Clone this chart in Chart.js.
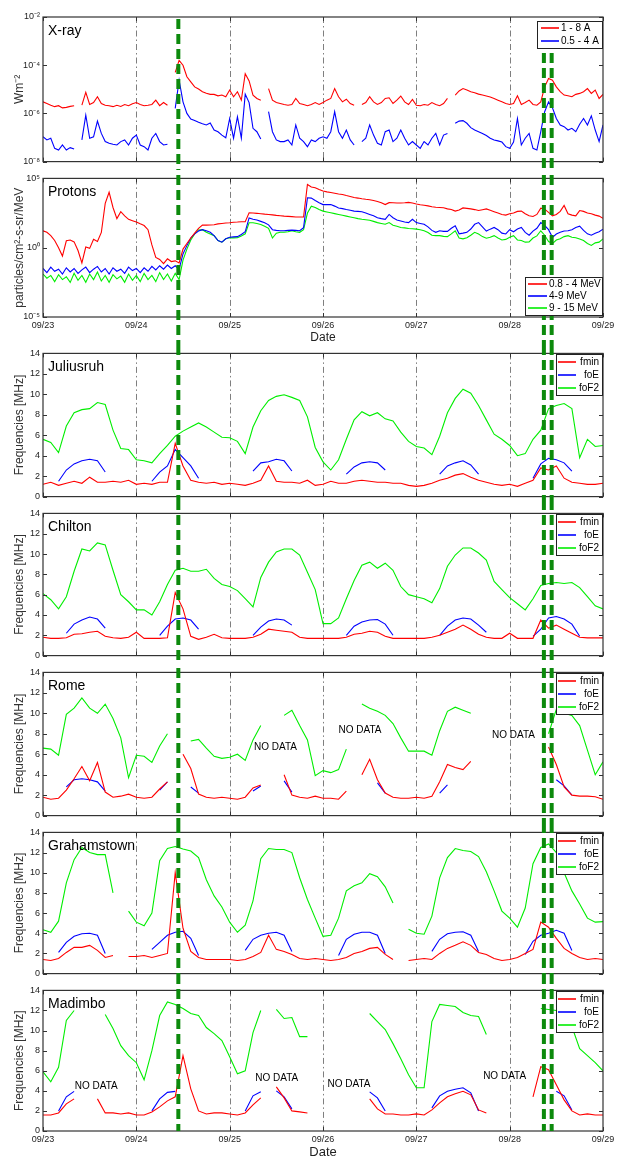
<!DOCTYPE html>
<html>
<head>
<meta charset="utf-8">
<title>Solar event 23-29 September</title>
<script src="https://cdn.jsdelivr.net/npm/chart.js@4/dist/chart.umd.min.js"></script>
<style>
  html, body { margin: 0; padding: 0; background: #fff; overflow: hidden; }
  #figure { position: relative; width: 618px; height: 1156px; }
  #figure canvas { position: absolute; left: 0; }
</style>
</head>
<body>
<div id="figure"></div>
<script>
// ---- time axis: hours since 09/23 00:00 ----
const dayLabels = ['09/23', '09/24', '09/25', '09/26', '09/27', '09/28', '09/29'];
const dayHours = [0, 24, 48, 72, 96, 120, 144];
const eventHours = [34.8, 128.8, 130.8];

const hourly = [];
for (let h = 0; h <= 144; h++) hourly.push(h);
const twoHourly = [];
for (let h = 0; h <= 144; h += 2) twoHourly.push(h);

// ---- GOES X-ray flux, log10(W m^-2), hourly ----
const xrayLong = [
  -5.52,-5.59,-5.66,-5.72,-5.68,-5.77,-5.75,-5.71,-5.68,null,-5.66,-5.13,
  -5.63,-5.55,-5.31,-5.59,-5.66,-5.68,-5.72,-5.66,-5.71,-5.63,-5.68,-5.60,
  -5.55,-5.63,-5.68,-5.66,-5.63,-5.45,-5.68,-5.55,-5.66,null,-4.30,-3.80,
  -4.00,-4.48,-4.69,-4.90,-4.99,-5.10,-5.16,-5.21,-5.21,-5.27,-5.24,-5.31,
  -5.03,-5.31,-5.10,-5.45,-4.35,-4.65,-5.24,-5.38,-5.45,null,-4.97,-5.45,
  -5.55,-5.59,-5.63,-5.66,-5.63,-5.38,-5.59,-5.63,-5.68,-5.63,-5.55,-5.63,
  -5.55,-5.45,-5.38,-4.97,-5.31,-5.52,-5.41,-5.59,-5.66,null,-5.63,-5.55,
  -5.31,-5.52,-5.63,-5.55,-5.38,-5.35,-5.59,-5.45,-5.28,-5.52,-5.63,-5.42,
  -5.66,-5.68,-5.63,-5.66,-5.55,-5.63,-5.68,-5.59,-5.38,null,-5.24,-5.07,
  -4.97,-5.03,-5.10,-5.14,-5.20,-5.24,-5.28,-5.32,-5.38,-5.45,-5.52,-5.59,
  -5.63,-5.59,-5.27,-5.63,-5.55,-5.45,-5.63,-5.66,-5.52,-4.90,-4.55,-4.62,
  -4.90,-5.10,-5.24,-5.27,-5.31,-5.21,-5.17,-5.10,-4.97,-5.17,-5.03,-5.38,
  -5.21
];
const xrayShort = [
  -6.97,-7.10,-7.03,-7.45,-7.52,-7.31,-7.52,-7.42,-7.48,null,-7.10,-6.07,
  -7.03,-6.97,-6.32,-6.83,-7.17,-7.24,-7.28,-7.31,-7.17,-7.10,-7.31,-7.03,
  -6.90,-7.31,-7.38,-7.52,-7.03,-6.83,-7.17,-7.31,-7.28,null,-5.79,-4.62,
  -5.52,-6.00,-6.23,-6.29,-6.37,-6.43,-6.48,-6.40,-6.69,-6.76,-6.90,-7.01,
  -6.21,-7.03,-6.14,-7.03,-5.20,-5.55,-6.62,-6.76,-7.06,null,-5.93,-6.76,
  -7.10,-7.17,-7.17,-7.10,-7.31,-6.48,-7.03,-7.17,-7.38,-7.10,-7.17,-7.03,
  -6.97,-7.03,-6.76,-5.93,-6.76,-7.03,-6.69,-7.10,-7.31,null,-7.17,-7.03,
  -6.48,-6.90,-7.24,-7.31,-6.76,-6.69,-7.17,-7.03,-6.69,-7.03,-7.31,-7.17,
  -7.31,-7.45,-7.17,-7.31,-7.03,-6.83,-7.31,-6.90,-6.83,null,-6.41,-6.32,
  -6.30,-6.41,-6.59,-6.69,-6.76,-6.83,-6.92,-7.03,-7.10,-7.14,-7.19,-7.38,
  -7.45,-7.19,-6.21,-7.31,-7.03,-6.83,-7.45,-7.52,-6.76,-5.93,-5.52,-5.77,
  -6.21,-6.48,-6.55,-6.69,-6.62,-6.76,-6.45,-6.21,-6.48,-6.10,-6.69,-7.17,
  -6.48
];

// ---- proton flux, log10(particles/cm2-s-sr/MeV), hourly ----
const protonsLow = [
  1.22,1.11,0.87,0.52,0.00,-0.60,0.50,0.55,0.42,-0.20,-1.10,0.05,
  -0.05,0.60,0.45,1.10,3.20,4.00,2.90,2.10,2.60,2.30,2.05,1.95,
  1.85,1.72,1.60,1.30,0.20,-0.70,-0.85,-1.15,-0.80,-1.00,-0.95,-1.10,
  -0.10,0.30,0.70,1.05,1.40,1.63,1.63,1.64,1.66,1.72,1.75,1.78,
  1.80,1.84,1.85,1.87,1.88,2.52,2.50,2.48,2.45,2.42,2.40,2.37,
  2.33,2.31,2.28,2.26,2.24,2.22,2.21,2.21,4.56,4.38,4.33,4.20,
  4.09,4.03,3.98,3.93,3.88,3.84,3.76,3.70,3.62,3.58,3.53,3.49,
  3.46,3.40,3.34,3.25,3.11,3.25,3.24,3.22,3.22,3.24,3.27,3.22,
  3.15,3.10,3.06,3.02,2.95,2.92,2.90,2.88,2.80,2.76,2.64,2.72,
  2.87,2.84,2.80,2.75,2.68,2.74,2.80,2.70,2.60,2.50,2.40,2.35,
  2.45,2.50,2.62,2.64,2.45,2.30,2.25,2.40,2.85,2.78,2.55,2.30,
  2.40,2.62,3.05,2.45,2.35,2.30,2.68,2.62,2.50,2.45,2.35,2.28,
  2.12
];
const protonsMid = [
  -1.50,-1.80,-1.40,-1.70,-1.55,-1.90,-1.45,-1.75,-1.50,-1.85,-1.60,-1.40,
  -1.80,-1.55,-1.35,-1.75,-1.50,-1.90,-1.45,-1.70,-1.55,-1.85,-1.40,-1.65,
  -1.50,-1.80,-1.45,-1.70,-1.35,-1.60,-1.30,-1.55,-1.25,-1.50,-1.30,-1.55,
  -0.45,0.15,0.70,1.00,1.20,1.30,1.22,1.11,0.87,0.52,0.40,0.64,
  0.75,0.78,0.80,0.95,1.15,2.15,2.05,2.00,1.90,1.80,1.65,1.30,
  1.25,1.22,1.22,1.25,1.27,1.25,1.22,1.45,3.60,3.58,3.40,3.25,
  3.11,3.11,3.11,3.00,2.87,2.82,2.75,2.70,2.64,2.62,2.59,2.50,
  2.40,2.30,2.16,2.10,2.05,2.40,2.16,2.00,1.93,1.85,1.81,2.05,
  1.81,1.75,1.69,1.50,1.25,1.11,1.22,1.18,1.18,1.40,1.58,1.00,
  1.05,1.11,1.35,1.69,1.81,1.50,1.20,1.34,1.46,1.30,1.05,0.99,
  1.30,1.15,1.35,1.46,1.10,0.90,1.20,1.40,1.81,1.60,1.30,0.75,
  0.99,1.11,1.20,1.22,1.30,1.46,1.55,1.25,1.00,0.90,1.05,1.15,
  1.34
];
const protonsHigh = [
  -1.90,-2.20,-2.00,-2.45,-1.95,-2.30,-2.10,-2.50,-1.85,-2.35,-2.00,-2.50,
  -1.90,-2.30,-1.75,-2.40,-2.00,-2.50,-1.95,-2.25,-2.05,-2.50,-1.90,-2.35,
  -2.00,-2.45,-1.85,-2.30,-2.00,-2.45,-1.80,-2.30,-1.90,-2.40,-1.85,-2.30,
  -0.90,-0.10,0.55,1.00,1.28,1.30,1.11,0.99,0.87,0.52,0.40,0.64,
  0.72,0.71,0.72,0.85,1.00,1.80,1.80,1.75,1.68,1.55,1.40,0.70,
  1.05,1.11,1.11,1.15,1.22,1.15,1.11,1.30,2.50,3.00,2.90,2.75,
  2.64,2.58,2.52,2.46,2.40,2.34,2.28,2.22,2.16,2.10,2.05,2.02,
  1.98,1.90,1.81,1.75,1.69,1.81,1.62,1.55,1.46,1.43,1.39,1.37,
  1.34,1.30,1.22,1.10,0.90,0.87,0.87,0.82,0.80,1.00,1.22,0.70,
  0.64,0.72,0.90,1.11,0.99,0.80,0.68,0.75,0.87,0.70,0.56,0.60,
  0.75,0.87,0.56,0.52,0.40,0.42,0.70,0.85,1.22,0.90,0.45,0.30,
  0.55,0.64,0.80,0.87,0.75,0.72,0.62,0.52,0.30,0.16,0.35,0.40,
  0.64
];

// ---- ionosonde frequencies [MHz], every 2 hours ----
const juliusruhFmin = [
  1.2,1.4,1.1,1.3,1.5,1.3,1.9,1.4,1.4,1.5,1.4,1.6,
  1.2,1.3,1.2,1.4,1.4,5.2,3.0,1.6,1.4,1.3,1.4,1.2,
  1.3,1.2,1.1,1.3,1.6,3.0,1.5,1.4,1.4,1.3,1.6,1.1,
  1.2,1.5,1.3,1.3,1.5,1.6,1.5,1.4,1.4,1.3,1.3,1.1,
  1.0,1.1,1.3,1.6,1.8,2.1,2.25,1.9,1.6,1.4,1.2,1.1,
  1.2,1.0,1.3,1.6,2.8,2.6,3.0,1.8,1.4,1.3,1.2,1.2,
  1.3
];
const juliusruhFoE = [
  null,null,1.5,2.6,3.2,3.5,3.65,3.5,2.4,null,null,null,
  null,null,1.5,2.4,3.0,4.6,3.8,3.0,1.8,null,null,null,
  null,null,null,2.5,3.3,3.4,3.65,3.5,2.5,null,null,null,
  null,null,null,2.2,2.9,3.3,3.4,3.3,2.6,null,null,null,
  null,null,null,2.2,3.0,3.3,3.5,3.1,2.2,null,null,null,
  null,null,null,1.8,3.2,3.75,3.6,3.3,2.5,null,null,null,
  null
];
const juliusruhFoF2 = [
  5.6,5.3,4.3,6.9,8.2,8.5,8.6,9.2,9.0,6.5,4.7,4.6,
  3.6,3.5,3.3,4.2,5.0,5.9,6.4,6.8,7.2,6.8,6.3,5.8,
  5.75,5.4,4.2,6.8,8.4,9.4,9.8,9.95,9.7,9.4,7.8,4.8,
  3.4,2.6,3.6,5.6,7.5,8.3,7.9,8.2,7.6,7.4,6.3,5.4,
  4.9,4.75,4.1,5.9,8.2,9.6,10.5,10.1,8.9,7.5,6.1,5.6,
  5.0,4.0,4.2,5.6,6.5,8.6,8.9,9.1,8.6,3.8,5.6,4.9,
  5.0
];

const chiltonFmin = [
  1.8,1.7,1.7,1.75,2.1,2.15,2.3,2.4,1.9,1.75,1.7,1.8,
  2.3,1.7,1.7,1.7,1.75,6.2,4.6,1.9,1.6,1.8,2.1,1.75,
  1.7,1.7,1.7,1.8,2.1,2.6,2.5,2.4,2.3,1.8,1.7,1.7,
  1.7,1.7,1.7,1.8,2.1,2.2,2.4,2.3,1.9,1.7,1.7,1.7,
  1.7,1.7,1.8,2.0,2.3,2.6,3.0,2.6,2.1,1.8,1.7,1.7,
  2.2,1.7,1.7,1.7,3.5,2.7,3.0,2.6,2.2,1.8,1.75,1.75,
  1.75
];
const chiltonFoE = [
  null,null,null,2.2,3.1,3.5,3.8,3.6,2.7,null,null,null,
  null,null,null,2.0,2.9,3.6,3.7,3.5,2.6,null,null,null,
  null,null,null,2.0,2.8,3.4,3.6,3.5,3.0,null,null,null,
  null,null,null,2.0,2.9,3.3,3.5,3.55,3.1,2.0,null,null,
  null,null,null,2.0,2.9,3.5,3.7,3.6,3.0,2.3,null,null,
  null,null,null,1.9,2.6,3.7,3.85,3.6,3.1,1.9,null,null,
  null
];
const chiltonFoF2 = [
  6.1,5.5,4.6,5.8,8.3,10.5,10.3,11.1,10.9,8.4,6.0,5.3,
  4.5,4.5,4.0,5.3,7.0,8.4,8.6,8.3,8.3,8.5,7.6,7.0,
  6.8,6.4,5.6,4.8,7.7,9.2,10.2,10.5,10.5,9.9,8.2,6.5,
  3.15,3.15,3.7,5.6,7.4,8.9,9.2,8.6,9.1,8.4,6.8,6.0,
  5.8,5.6,5.2,6.6,8.8,9.9,10.6,10.6,10.1,9.4,7.3,6.5,
  5.7,5.1,4.5,5.6,6.9,7.1,7.2,7.1,7.2,6.7,5.8,4.9,
  4.6
];

const romeFmin = [
  1.8,1.6,1.7,2.5,3.6,4.8,3.4,5.2,2.3,1.8,1.9,2.1,
  1.8,1.7,1.8,2.6,3.3,null,6.0,4.6,2.1,1.8,1.7,1.8,
  1.7,1.6,1.8,2.7,3.0,null,null,4.0,2.0,1.8,1.7,1.9,
  1.7,1.7,1.6,2.4,null,4.0,5.5,3.5,2.2,1.8,1.7,1.7,
  1.8,1.7,1.9,3.3,5.0,4.7,4.5,5.3,null,null,null,null,
  null,null,null,null,null,6.7,5.0,2.8,2.0,1.9,1.9,1.85,
  1.6
];
const romeFoE = [
  null,null,null,2.8,3.5,3.6,3.5,3.3,2.4,null,null,null,
  null,null,null,2.5,3.3,null,null,2.8,2.2,null,null,null,
  null,null,null,2.4,2.9,null,null,3.4,2.3,null,null,null,
  null,null,null,null,null,null,null,3.2,2.2,null,null,null,
  null,null,null,2.2,3.0,null,null,null,null,null,null,null,
  null,null,null,null,null,null,3.5,2.9,2.0,null,null,null,
  null
];
const romeFoF2 = [
  6.6,6.5,5.9,9.9,10.5,11.5,10.5,10.0,10.9,9.5,7.6,3.7,
  5.9,5.8,5.2,6.8,8.0,null,null,7.3,7.45,6.6,5.8,5.6,
  5.7,6.0,5.4,7.4,8.8,null,null,9.8,10.3,8.8,7.4,3.9,
  4.4,4.2,4.5,6.5,null,10.9,10.5,10.2,9.8,9.0,7.6,6.3,
  6.3,6.3,5.9,8.3,10.2,10.6,10.3,10.0,null,null,null,null,
  null,null,null,null,null,8.0,10.4,10.0,9.8,8.8,6.4,4.0,
  5.25
];

const grahamstownFmin = [
  1.4,1.3,1.5,2.1,2.6,2.6,2.8,2.3,1.6,1.8,null,1.7,
  1.7,1.8,1.6,1.8,2.0,10.0,4.5,2.2,1.6,1.4,1.4,1.4,
  1.4,1.3,1.4,1.7,2.1,3.8,2.4,2.2,1.9,1.5,1.4,1.5,
  1.4,1.3,1.4,1.6,2.0,2.2,2.5,2.6,1.9,1.4,null,1.3,
  1.4,1.5,1.4,2.0,2.5,2.8,3.15,2.8,2.1,1.9,1.5,1.3,
  1.4,1.6,2.0,2.4,5.1,4.6,3.5,2.5,2.0,1.6,1.4,1.5,
  1.4
];
const grahamstownFoE = [
  null,null,2.1,3.1,3.7,3.95,4.0,3.8,2.0,null,null,null,
  null,null,2.4,3.1,3.8,4.1,4.2,3.5,1.8,null,null,null,
  null,null,2.3,3.4,3.8,4.0,4.1,3.8,2.2,null,null,null,
  null,null,1.8,3.4,3.9,4.1,4.1,3.8,2.0,null,null,null,
  null,null,2.2,3.4,3.95,4.1,4.15,3.8,2.2,null,null,null,
  null,null,1.9,3.2,3.8,4.0,4.3,4.0,2.3,null,null,null,
  null
];
const grahamstownFoF2 = [
  4.35,4.1,5.2,9.0,11.3,12.5,12.0,11.8,11.8,8.0,null,6.2,
  5.1,4.75,6.0,11.2,12.4,12.6,12.35,12.15,11.5,9.3,7.7,6.6,
  5.1,4.1,4.8,7.2,11.4,12.4,12.3,12.3,12.0,9.5,7.35,5.5,
  3.7,3.8,5.5,8.2,8.7,9.0,9.9,9.6,8.6,7.0,null,4.4,
  4.0,3.9,5.7,9.5,11.5,12.4,12.2,12.1,11.6,10.1,8.2,6.2,
  5.5,4.6,6.5,10.9,12.5,12.85,12.0,10.0,8.2,6.9,5.5,5.1,
  5.15
];

const madimboFmin = [
  1.6,1.6,1.8,2.7,3.2,null,null,3.2,1.8,1.8,1.7,1.8,
  1.6,1.6,1.9,2.4,3.0,3.4,7.5,4.2,2.0,1.7,1.8,1.8,
  1.7,1.6,1.8,2.6,3.3,null,4.4,3.3,2.0,1.9,1.8,null,
  null,null,null,null,null,null,3.2,2.2,1.7,1.7,1.6,1.6,
  1.7,1.6,2.1,2.8,3.4,3.7,3.95,3.6,2.1,1.8,null,null,
  null,null,null,3.4,6.4,6.1,4.6,3.1,2.0,1.6,1.7,1.6,
  1.6
];
const madimboFoE = [
  null,null,2.0,3.4,3.95,null,null,null,null,null,null,null,
  null,null,2.0,3.2,3.85,3.95,null,null,null,null,null,null,
  null,null,2.0,3.5,3.9,null,4.0,3.4,2.2,null,null,null,
  null,null,null,null,null,null,3.9,3.3,2.0,null,null,null,
  null,null,2.3,3.5,3.95,4.15,4.3,3.8,2.0,null,null,null,
  null,null,null,null,null,null,3.95,3.5,2.1,null,null,null,
  null
];
const madimboFoF2 = [
  5.9,4.9,6.35,11.0,12.0,null,null,null,11.6,10.2,8.5,7.5,
  6.8,5.1,8.0,11.5,12.85,12.6,12.2,11.7,11.5,10.3,9.7,9.0,
  7.4,5.7,6.0,9.8,12.0,null,12.1,11.2,11.3,9.4,9.4,null,
  null,null,null,null,null,null,11.7,10.9,10.1,8.7,7.2,5.6,
  4.3,4.3,10.9,12.6,12.5,12.4,11.8,11.5,11.4,9.6,null,null,
  null,null,null,null,12.2,12.1,12.0,11.5,10.4,8.2,7.5,6.8,
  6.0
];

// "NO DATA" captions: [hour, MHz]
const romeNoData = [[59.8, 6.7], [81.5, 8.3], [121.0, 7.9]];
const madimboNoData = [[13.7, 4.5], [60.1, 5.3], [78.7, 4.7], [118.7, 5.5]];

// ---- styling ----
const FONT = '"Liberation Sans", Arial, sans-serif';
const RED = '#ff0000', BLUE = '#0000ff', GREEN = '#00ee00';
const EVENT_GREEN = '#0c8a0c';

const SUP = { '-': '\u207b', '0': '\u2070', '1': '\u00b9', '2': '\u00b2', '3': '\u00b3',
  '4': '\u2074', '5': '\u2075', '6': '\u2076', '7': '\u2077', '8': '\u2078', '9': '\u2079' };
function powerLabel(v) {
  const e = Math.round(Math.log10(v));
  return '10' + String(e).split('').map(c => SUP[c]).join('');
}
function fromLog(arr) {
  return arr.map(v => (v === null ? null : Math.pow(10, v)));
}
function ionoSeries(fmin, foE, foF2) {
  return [
    { label: 'fmin', values: fmin, color: RED },
    { label: 'foE', values: foE, color: BLUE },
    { label: 'foF2', values: foF2, color: GREEN }
  ];
}

const panels = [
  { title: 'X-ray', top: 0, height: 170, padTop: 17, padBottom: 7,
    yType: 'logarithmic', yMin: 1e-8, yMax: 1e-2, yTicks: [1e-8, 1e-6, 1e-4, 1e-2], yTitle: 'Wm\u207b\u00b2',
    hours: hourly, legend: 'xray', eventFrom: ['area', 'legend', 'legend'],
    series: [
      { label: '1 - 8 A', values: fromLog(xrayLong), color: RED },
      { label: '0.5 - 4 A', values: fromLog(xrayShort), color: BLUE }
    ] },
  { title: 'Protons', top: 170, height: 175, padTop: 6, padBottom: 0, xTitle: 'Date', xHeight: 28, xTitleSize: 12,
    yType: 'logarithmic', yMin: 1e-5, yMax: 1e5, yTicks: [1e-5, 1, 1e5], yTitle: 'particles/cm\u00b2-s-sr/MeV',
    hours: hourly, legend: 'protons',
    series: [
      { label: '0.8 - 4 MeV', values: fromLog(protonsLow), color: RED },
      { label: '4-9 MeV', values: fromLog(protonsMid), color: BLUE },
      { label: '9 - 15 MeV', values: fromLog(protonsHigh), color: GREEN }
    ] },
  { title: 'Juliusruh', top: 345, height: 160, padTop: 5, padBottom: 4, hours: twoHourly, legend: 'iono',
    series: ionoSeries(juliusruhFmin, juliusruhFoE, juliusruhFoF2) },
  { title: 'Chilton', top: 505, height: 159, padTop: 5, padBottom: 4, hours: twoHourly, legend: 'iono',
    series: ionoSeries(chiltonFmin, chiltonFoE, chiltonFoF2) },
  { title: 'Rome', top: 664, height: 160, padTop: 5, padBottom: 4, hours: twoHourly, legend: 'iono',
    notes: romeNoData, series: ionoSeries(romeFmin, romeFoE, romeFoF2) },
  { title: 'Grahamstown', top: 824, height: 158, padTop: 4, padBottom: 4, hours: twoHourly, legend: 'iono',
    series: ionoSeries(grahamstownFmin, grahamstownFoE, grahamstownFoF2) },
  { title: 'Madimbo', top: 982, height: 178, padTop: 4, padBottom: 0, xTitle: 'Date', xHeight: 29, xTitleSize: 13,
    hours: twoHourly, legend: 'iono', eventTo: 'area',
    notes: madimboNoData, series: ionoSeries(madimboFmin, madimboFoE, madimboFoF2) }
];

// legend box placement inside the plot frame
function legendBox(a, kind) {
  if (kind === 'xray') return { x: a.right - 66, y: a.top + 4, w: 65, h: 27, rows: [7, 20], line: [4, 22], text: 24, align: 'left' };
  if (kind === 'protons') return { x: a.right - 78, y: a.bottom - 40, w: 77, h: 38, rows: [7, 19, 31], line: [3, 22], text: 24, align: 'left' };
  return { x: a.right - 47, y: a.top + 1, w: 46, h: 41, rows: [8, 21, 34], line: [2, 20], text: 43, align: 'right' };
}

function makeDecor(p) {
  return {
    id: 'panelDecor',
    beforeDatasetsDraw(chart) {
      const { ctx, chartArea: a, scales: { x } } = chart;
      ctx.save();
      ctx.strokeStyle = 'rgba(40,40,40,0.75)';
      ctx.lineWidth = 0.8;
      ctx.setLineDash([6, 3, 1.5, 3]);
      dayHours.slice(1, -1).forEach(h => {
        const px = Math.round(x.getPixelForValue(h)) + 0.5;
        ctx.beginPath();
        ctx.moveTo(px, a.top);
        ctx.lineTo(px, a.bottom);
        ctx.stroke();
      });
      ctx.restore();
    },
    afterDatasetsDraw(chart) {
      const { ctx, chartArea: a, scales: { x, y } } = chart;
      ctx.save();

      // axes box with inward ticks
      ctx.strokeStyle = '#333';
      ctx.lineWidth = 1.2;
      ctx.strokeRect(a.left, a.top, a.right - a.left, a.bottom - a.top);
      ctx.lineWidth = 1;
      ctx.beginPath();
      y.ticks.forEach(t => {
        const py = Math.round(y.getPixelForValue(t.value)) + 0.5;
        ctx.moveTo(a.left, py); ctx.lineTo(a.left + 4, py);
        ctx.moveTo(a.right, py); ctx.lineTo(a.right - 4, py);
      });
      dayHours.forEach(h => {
        const px = Math.round(x.getPixelForValue(h)) + 0.5;
        ctx.moveTo(px, a.bottom); ctx.lineTo(px, a.bottom - 4);
        ctx.moveTo(px, a.top); ctx.lineTo(px, a.top + 4);
      });
      ctx.stroke();

      // panel name
      ctx.fillStyle = '#000';
      ctx.font = '14px ' + FONT;
      ctx.textAlign = 'left';
      ctx.textBaseline = 'alphabetic';
      ctx.fillText(p.title, a.left + 5, a.top + 18);

      // gap captions
      if (p.notes) {
        ctx.font = '10px ' + FONT;
        ctx.textAlign = 'center';
        ctx.textBaseline = 'middle';
        p.notes.forEach(([h, v]) => ctx.fillText('NO DATA', x.getPixelForValue(h), y.getPixelForValue(v)));
      }

      // flare / event markers
      const box = legendBox(a, p.legend);
      ctx.strokeStyle = EVENT_GREEN;
      ctx.lineWidth = 4;
      ctx.setLineDash([10, 5]);
      eventHours.forEach((h, i) => {
        const px = x.getPixelForValue(h);
        let y0 = 0;
        const from = p.eventFrom ? p.eventFrom[i] : 'canvas';
        if (from === 'area') y0 = a.top;
        if (from === 'legend') y0 = box.y + box.h + 1;
        const y1 = p.eventTo === 'area' ? a.bottom : chart.height;
        ctx.lineDashOffset = -(p.top + y0);
        ctx.beginPath();
        ctx.moveTo(px, y0);
        ctx.lineTo(px, y1);
        ctx.stroke();
      });
      ctx.setLineDash([]);

      // legend
      ctx.fillStyle = '#fff';
      ctx.fillRect(box.x, box.y, box.w, box.h);
      ctx.strokeStyle = '#222';
      ctx.lineWidth = 1;
      ctx.strokeRect(Math.round(box.x) + 0.5, Math.round(box.y) + 0.5, box.w, box.h);
      ctx.font = '10px ' + FONT;
      ctx.textBaseline = 'middle';
      ctx.textAlign = box.align;
      chart.data.datasets.forEach((ds, i) => {
        const ry = Math.round(box.y + box.rows[i]);
        ctx.strokeStyle = ds.borderColor;
        ctx.lineWidth = 1.6;
        ctx.beginPath();
        ctx.moveTo(box.x + box.line[0], ry);
        ctx.lineTo(box.x + box.line[1], ry);
        ctx.stroke();
        ctx.fillStyle = '#000';
        ctx.fillText(ds.label, box.x + box.text, ry + 0.5);
      });

      ctx.restore();
    }
  };
}

function xScale(p) {
  const shown = !!p.xTitle;
  return {
    type: 'linear', min: 0, max: 144, display: shown,
    afterBuildTicks: s => { s.ticks = dayHours.map(v => ({ value: v })); },
    afterFit: s => { if (shown) s.height = p.xHeight; },
    grid: { display: false, drawTicks: false },
    border: { display: false },
    ticks: {
      autoSkip: false, maxRotation: 0, padding: 3, color: '#222',
      font: { family: FONT, size: 9 },
      callback: v => dayLabels[Math.round(v / 24)]
    },
    title: {
      display: shown, text: p.xTitle || '', color: '#222',
      font: { family: FONT, size: p.xTitleSize || 12 }, padding: 0
    }
  };
}

function yScale(p) {
  const s = {
    type: p.yType || 'linear',
    min: p.yType ? p.yMin : 0,
    max: p.yType ? p.yMax : 14,
    afterFit: sc => { sc.width = 43; },
    grid: { display: false, drawTicks: false },
    border: { display: false },
    ticks: { padding: 3, color: '#222', font: { family: FONT, size: 9 }, autoSkip: false },
    title: {
      display: true, text: p.yTitle || 'Frequencies [MHz]', color: '#333',
      font: { family: FONT, size: 12 }, padding: { top: 12, bottom: 0 }
    }
  };
  if (p.yTicks) {
    s.afterBuildTicks = sc => { sc.ticks = p.yTicks.map(v => ({ value: v })); };
    s.ticks.callback = v => powerLabel(v);
  } else {
    s.ticks.stepSize = 2;
  }
  return s;
}

const figure = document.getElementById('figure');
panels.forEach(p => {
  const canvas = document.createElement('canvas');
  canvas.width = 618;
  canvas.height = p.height;
  canvas.style.top = p.top + 'px';
  canvas.style.width = '618px';
  canvas.style.height = p.height + 'px';
  figure.appendChild(canvas);

  new Chart(canvas, {
    type: 'line',
    data: {
      datasets: p.series.map(s => ({
        label: s.label,
        data: p.hours.map((h, i) => ({ x: h, y: s.values[i] })),
        borderColor: s.color,
        backgroundColor: s.color,
        borderWidth: 1.1,
        pointRadius: 0,
        tension: 0,
        spanGaps: false
      }))
    },
    options: {
      responsive: false,
      animation: false,
      devicePixelRatio: 1,
      layout: { padding: { top: p.padTop, bottom: p.padBottom, left: 0, right: 15 } },
      plugins: { legend: { display: false }, tooltip: { enabled: false } },
      scales: { x: xScale(p), y: yScale(p) }
    },
    plugins: [makeDecor(p)]
  });
});
</script>
</body>
</html>
